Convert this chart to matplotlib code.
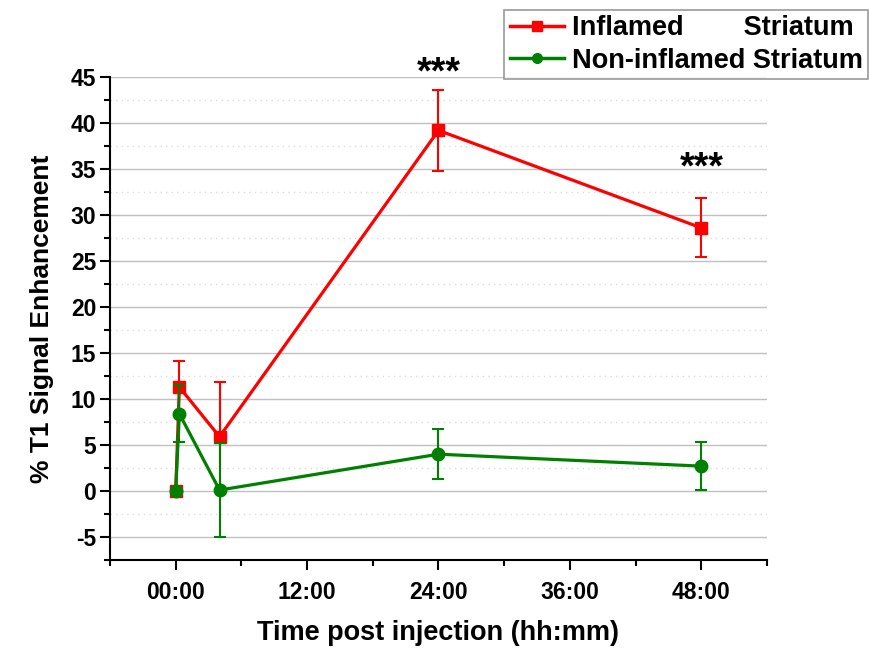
import numpy as np
import matplotlib
matplotlib.use("Agg")
import matplotlib.pyplot as plt
from matplotlib.ticker import MultipleLocator, FuncFormatter
from matplotlib.lines import Line2D

# time post injection in hours
hours = [0, 0.33, 4, 24, 48]
inflamed = [0, 11.3, 5.9, 39.2, 28.6]
inflamed_err = [0, 2.8, 6.0, 4.4, 3.2]
non_inflamed = [0, 8.4, 0.1, 4.0, 2.7]
non_inflamed_err = [0, 3.1, 5.1, 2.7, 2.6]
star_x = [24, 48]
star_y = [44.3, 34.0]

plt.rcParams['font.family'] = ['Liberation Sans', 'DejaVu Sans']
plt.rcParams['font.weight'] = 'bold'
plt.rcParams['axes.unicode_minus'] = False

fig = plt.figure(figsize=(8.69, 6.5), dpi=100)
ax = fig.add_axes([0.1266, 0.1385, 0.756, 0.743])

ax.errorbar(hours, inflamed, yerr=inflamed_err, color='#ff0000', marker='s',
            markersize=9, linewidth=2.3, elinewidth=1.5, capsize=4.5, capthick=1.5,
            zorder=3)
ax.errorbar(hours, non_inflamed, yerr=non_inflamed_err, color='#008000', marker='o',
            markersize=9, linewidth=2.3, elinewidth=1.5, capsize=4.5, capthick=1.5,
            zorder=4)

for x, y in zip(star_x, star_y):
    ax.text(x, y, '***', ha='center', va='baseline', fontsize=27, fontweight='bold',
            clip_on=False)

ax.set_xlim(-6, 54)
ax.set_ylim(-7.5, 45)
ax.xaxis.set_major_locator(MultipleLocator(12))
ax.xaxis.set_minor_locator(MultipleLocator(6))
ax.xaxis.set_major_formatter(FuncFormatter(lambda v, p: '%02d:00' % int(v)))
ax.yaxis.set_major_locator(MultipleLocator(5))
ax.yaxis.set_minor_locator(MultipleLocator(2.5))

ax.grid(axis='y', which='major', color='#c0c0c0', linewidth=1)
ax.grid(axis='y', which='minor', color='#dcdcdc', linewidth=1, linestyle=(0, (1, 3)))
ax.set_axisbelow(True)

for s in ['top', 'right']:
    ax.spines[s].set_visible(False)
ax.spines['left'].set_linewidth(1.5)
ax.spines['bottom'].set_linewidth(1.5)
ax.tick_params(which='major', length=7, width=1.5, labelsize=16.5, pad=3)
ax.tick_params(which='minor', length=4, width=1.5)
ax.tick_params(axis='x', pad=8)

ax.set_xlabel('Time post injection (hh:mm)', fontsize=19.5, fontweight='bold', labelpad=12)
ax.set_ylabel('% T1 Signal Enhancement', fontsize=19, fontweight='bold', labelpad=12)

handles = [Line2D([], [], color='#ff0000', marker='s', markersize=7, linewidth=2.5),
           Line2D([], [], color='#008000', marker='o', markersize=7, linewidth=2.5)]
labels = ['Inflamed        Striatum', 'Non-inflamed Striatum']
leg = fig.legend(handles, labels, loc='upper right', bbox_to_anchor=(0.999, 0.985),
                 bbox_transform=fig.transFigure, fontsize=19.5, frameon=True,
                 fancybox=False, handlelength=2.0, borderpad=0.2, labelspacing=0.25,
                 handletextpad=0.3, borderaxespad=0)
leg.get_frame().set_edgecolor('#808080')
leg.get_frame().set_linewidth(1.2)

fig.savefig('out.png', dpi=100)
